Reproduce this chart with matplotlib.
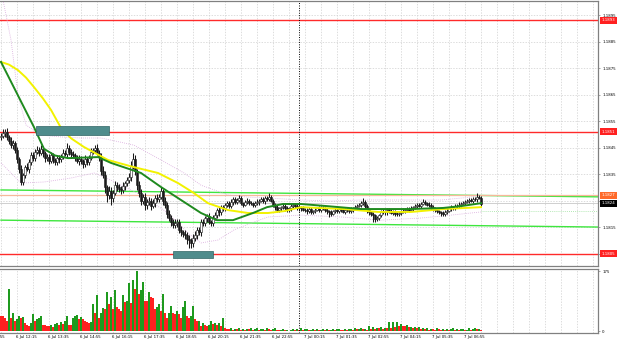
import matplotlib
matplotlib.use('Agg')
import matplotlib.pyplot as plt
import matplotlib.transforms as mtransforms
from matplotlib.patches import Rectangle
import numpy as np

# prices are stored as pips above base, one value per M5 bar (bar 0 = 6 Jul 11:35)
base = 1.1800
pip = 0.0001
first_open = 49.0

close = [
    49.5, 50.5, 51.0, 49.0, 47.5, 46.0, 46.8, 44.0, 40.5, 37.0,
    32.0, 34.5, 37.5, 36.8, 39.5, 42.0, 41.0, 43.5, 44.2, 43.0,
    44.5, 42.8, 41.0, 41.5, 40.0, 42.0, 40.2, 39.5, 41.0, 40.6,
    41.5, 43.0, 42.5, 45.0, 43.5, 42.5, 42.0, 41.2, 40.0, 40.8,
    40.0, 38.8, 40.5, 39.5, 41.0, 43.5, 44.0, 45.0, 43.0, 41.5,
    36.0, 34.5, 30.0, 27.0, 28.5, 26.0, 28.0, 31.0, 30.0, 29.5,
    29.0, 30.5, 31.5, 32.7, 34.0, 38.0, 40.5, 36.0, 31.0, 28.0,
    25.0, 26.5, 23.3, 24.5, 25.0, 23.0, 24.0, 26.0, 25.5, 26.5,
    28.5, 25.0, 23.3, 20.0, 18.4, 17.0, 15.8, 16.5, 17.0, 14.0,
    13.0, 12.5, 12.0, 10.5, 10.0, 9.0, 11.0, 12.0, 14.0, 13.0,
    17.0, 16.5, 18.4, 19.0, 17.0, 16.5, 18.4, 19.5, 21.4, 20.5,
    22.5, 22.0, 23.3, 24.0, 23.0, 24.4, 25.5, 24.6, 25.2, 26.0,
    24.0, 23.5, 24.5, 25.0, 24.2, 24.0, 23.3, 24.0, 24.5, 25.0,
    25.5, 24.8, 26.0, 25.5, 26.3, 25.0, 23.3, 22.5, 21.4, 22.0,
    22.5, 23.0, 22.0, 21.4, 22.0, 22.8, 23.3, 23.0, 22.0, 22.5,
    22.0, 21.5, 21.4, 21.0, 21.8, 20.7, 21.0, 21.5, 22.0, 21.5,
    22.3, 22.0, 21.5, 21.0, 20.7, 20.0, 21.0, 21.4, 21.0, 21.8,
    21.4, 20.8, 21.5, 21.4, 21.0, 21.6, 22.0, 22.5, 23.0, 23.3,
    24.0, 24.4, 23.0, 21.4, 20.5, 20.0, 19.5, 18.0, 18.4, 19.5,
    20.7, 21.0, 20.5, 21.4, 21.0, 20.4, 20.7, 20.0, 19.8, 20.3,
    20.8, 21.2, 21.4, 21.8, 21.5, 22.0, 22.5, 22.8, 23.3, 23.0,
    23.8, 24.4, 24.0, 23.5, 23.3, 22.5, 22.0, 21.4, 21.0, 20.5,
    20.3, 19.8, 20.7, 21.2, 22.0, 22.5, 22.2, 22.8, 23.0, 23.5,
    23.8, 24.0, 24.5, 24.8, 25.2, 25.0, 25.6, 25.4, 26.3, 26.0,
    23.7]

# upper / lower wick beyond the body, pips
up = [
    1.0, 1.5, 1.0, 1.2, 0.8, 1.5, 1.0, 0.8, 1.2, 1.0,
    1.5, 1.0, 0.8, 1.5, 1.0, 1.2, 1.5, 0.8, 1.5, 1.0,
    1.5, 1.0, 0.8, 1.2, 1.0, 1.5, 1.0, 0.8, 1.2, 1.0,
    1.0, 1.5, 1.0, 1.7, 1.0, 0.8, 1.2, 1.0, 0.8, 1.2,
    1.0, 0.8, 1.5, 1.0, 1.2, 1.5, 1.0, 1.0, 1.5, 1.0,
    1.5, 2.0, 1.5, 1.0, 2.0, 1.5, 1.0, 1.5, 1.0, 1.2,
    1.0, 1.5, 1.0, 1.2, 1.5, 2.0, 2.5, 1.5, 1.0, 1.5,
    1.5, 1.0, 1.5, 1.0, 1.2, 1.0, 1.5, 1.0, 1.5, 1.0,
    1.5, 1.0, 1.2, 1.0, 1.5, 1.0, 1.2, 1.5, 1.0, 1.2,
    1.5, 1.0, 1.2, 1.0, 1.5, 1.0, 1.2, 1.5, 1.0, 1.2,
    1.0, 1.2, 0.8, 1.0, 1.2, 0.8, 1.0, 1.2, 0.8, 1.0,
    0.8, 1.0, 0.8, 1.0, 0.8, 1.0, 0.8, 1.0, 0.8, 1.0,
    0.8, 0.6, 0.8, 1.0, 0.6, 0.8, 0.6, 0.8, 1.0, 0.6,
    0.8, 1.0, 0.6, 0.8, 1.5, 0.8, 0.6, 0.8, 1.0, 0.6,
    0.6, 0.8, 0.6, 1.0, 0.6, 0.8, 0.6, 0.8, 0.6, 0.8,
    0.6, 0.8, 0.6, 0.8, 0.6, 0.8, 0.6, 0.8, 0.6, 0.8,
    0.6, 0.8, 0.6, 0.8, 0.6, 0.8, 0.6, 0.8, 0.6, 0.8,
    0.6, 0.8, 0.6, 0.8, 0.6, 0.8, 0.6, 0.8, 0.6, 0.8,
    1.0, 1.5, 0.8, 0.6, 0.8, 0.6, 0.8, 0.6, 0.8, 0.6,
    0.6, 0.8, 0.6, 0.8, 0.6, 0.8, 0.6, 0.8, 0.6, 0.8,
    0.6, 0.8, 0.6, 0.8, 0.6, 0.8, 0.6, 0.8, 0.6, 0.8,
    0.6, 1.0, 0.8, 0.6, 0.8, 0.6, 0.8, 0.6, 0.8, 0.6,
    0.6, 0.8, 0.6, 0.8, 0.6, 0.8, 0.6, 0.8, 0.6, 0.8,
    0.6, 0.8, 0.6, 0.8, 0.6, 0.8, 0.6, 0.8, 1.5, 0.8,
    0.6]
dn = [
    1.0, 0.8, 1.5, 1.0, 1.2, 1.0, 1.5, 1.0, 1.2, 1.5,
    1.0, 1.2, 1.0, 0.8, 1.5, 1.0, 1.2, 1.0, 0.8, 1.2,
    1.0, 1.2, 1.5, 1.0, 1.2, 0.8, 1.0, 1.2, 1.0, 1.5,
    1.2, 1.0, 0.8, 1.0, 1.2, 1.0, 0.8, 1.2, 1.0, 1.5,
    1.2, 1.5, 1.0, 1.2, 1.0, 0.8, 1.0, 1.2, 1.0, 1.5,
    1.5, 1.0, 2.0, 2.5, 1.5, 2.7, 1.5, 1.0, 1.5, 1.2,
    1.5, 1.0, 1.5, 1.2, 1.0, 1.5, 1.0, 1.5, 2.0, 1.5,
    1.5, 1.2, 2.0, 1.5, 1.2, 1.5, 1.0, 1.5, 1.2, 1.0,
    1.0, 1.5, 1.2, 1.5, 1.0, 1.5, 1.2, 1.0, 1.5, 1.2,
    1.5, 1.2, 1.5, 2.0, 3.0, 2.0, 1.5, 1.2, 1.5, 1.0,
    1.2, 1.0, 1.2, 1.5, 1.0, 1.2, 1.0, 0.8, 1.0, 1.2,
    1.0, 0.8, 1.0, 0.8, 1.0, 0.8, 1.0, 0.8, 1.0, 0.8,
    0.8, 1.0, 0.6, 0.8, 1.0, 0.6, 0.8, 0.6, 0.8, 1.0,
    0.6, 0.8, 1.0, 0.6, 0.8, 0.6, 0.8, 1.0, 0.6, 0.8,
    0.8, 0.6, 1.0, 0.8, 0.6, 0.8, 0.6, 1.0, 0.6, 0.8,
    0.8, 0.6, 0.8, 1.0, 0.6, 0.8, 0.6, 0.8, 0.6, 1.0,
    0.8, 0.6, 0.8, 1.0, 2.0, 0.8, 0.6, 0.8, 0.6, 0.8,
    0.8, 0.6, 0.8, 0.6, 0.8, 0.6, 0.8, 0.6, 0.8, 0.6,
    0.8, 0.6, 0.8, 1.0, 0.8, 1.0, 2.5, 1.0, 0.8, 0.6,
    0.8, 0.6, 0.8, 1.0, 0.8, 0.6, 0.8, 1.0, 0.8, 0.6,
    0.8, 0.6, 0.8, 0.6, 0.8, 0.6, 0.8, 0.6, 0.8, 0.6,
    0.8, 0.6, 0.8, 0.6, 0.8, 0.6, 0.8, 0.6, 0.8, 0.6,
    1.0, 0.8, 0.6, 0.8, 0.6, 0.8, 0.6, 0.8, 0.6, 0.8,
    0.8, 0.6, 0.8, 0.6, 0.8, 0.6, 0.8, 0.6, 0.8, 0.6,
    0.8]

volume = [
    45, 44, 40, 30, 125, 40, 55, 30, 35, 45,
    40, 42, 25, 20, 15, 25, 52, 30, 35, 40,
    45, 20, 18, 15, 15, 18, 12, 22, 25, 20,
    28, 22, 30, 45, 20, 18, 40, 45, 48, 35,
    42, 35, 30, 28, 25, 28, 80, 55, 105, 40,
    55, 68, 65, 115, 80, 100, 65, 120, 70, 65,
    60, 105, 85, 90, 140, 82, 150, 125, 175, 110,
    120, 145, 90, 88, 115, 100, 98, 65, 70, 80,
    60, 108, 55, 40, 55, 75, 55, 50, 60, 50,
    40, 70, 90, 45, 40, 45, 75, 35, 30, 32,
    15, 25, 20, 15, 18, 30, 22, 25, 20, 25,
    15, 40, 10, 8, 6, 10, 5, 8, 6, 9,
    5, 7, 4, 8, 6, 10, 5, 7, 9, 4,
    6, 8, 5, 9, 7, 4, 6, 10, 5, 3,
    4, 6, 3, 5, 2, 4, 6, 3, 8, 5,
    9, 4, 6, 8, 3, 5, 7, 4, 6, 3,
    5, 8, 4, 6, 3, 5, 7, 4, 6, 8,
    5, 4, 7, 3, 6, 8, 5, 9, 6, 7,
    10, 6, 8, 5, 17, 8, 12, 7, 10, 9,
    12, 8, 11, 9, 27, 10, 27, 12, 27, 15,
    22, 17, 15, 18, 12, 14, 11, 13, 10, 12,
    8, 10, 6, 9, 5, 8, 7, 4, 9, 6,
    5, 8, 4, 7, 3, 6, 9, 5, 7, 4,
    6, 8, 3, 5, 9, 4, 7, 10, 6, 8,
    5]

# indicator lines (bar index, pips)
fast_ma_x = [0, 16.5, 21.5, 27, 33.5, 48.5, 55, 70, 80, 90, 100, 108, 116, 126, 133, 141,
             150, 163, 180, 191, 205, 221, 230, 240]
fast_ma_y = [77.3, 52.7, 44.5, 42.0, 41.0, 41.4, 39.2, 35.4, 30.1, 25.2, 20.3, 17.6, 17.6,
             20.3, 22.5, 23.7, 23.7, 22.9, 21.8, 21.8, 21.8, 22.2, 22.9, 24.0]
slow_ma_x = [0, 4, 8.5, 12.5, 16.5, 21, 25, 30, 35, 41.5, 53.5, 66.5, 78.5, 88.5, 96.5, 103.5,
             113.5, 123.5, 133.5, 141.5, 150, 171.5, 188.5, 205, 221.5, 240]
slow_ma_y = [77.3, 76.3, 74.2, 71.4, 67.8, 63.5, 59.2, 52.4, 48.5, 45.2, 40.3, 37.6, 35.4,
             31.6, 27.8, 24.0, 21.4, 20.3, 20.3, 21.0, 22.5, 21.8, 20.7, 20.7, 21.8, 22.5]
band_up_x = [1, 5, 8.5, 12.5, 20, 30, 40, 50, 55, 66.5, 80, 91.5, 100, 113.5, 123.5, 135,
             150, 165, 180, 200, 220, 235, 240]
band_up_y = [100.7, 85.6, 64.8, 53.5, 49.7, 49.0, 48.6, 48.6, 47.8, 45.9, 40.3, 35.4, 30.8,
             27.1, 26.3, 25.9, 25.2, 24.8, 25.2, 25.2, 25.2, 26.3, 27.1]
band_dn_x = [0, 10, 21.5, 35, 46.5, 55, 70, 83.5, 93.5, 100, 108.5, 116.5, 125, 133.5, 150,
             170, 190, 210, 225, 240]
band_dn_y = [39.2, 31.6, 32.0, 33.5, 35.4, 32.7, 27.1, 20.3, 12.7, 9.0, 10.1, 13.9, 16.5, 18.8,
             19.5, 18.8, 17.6, 18.4, 19.5, 20.7]

red_levels = [1.1893, 1.1851, 1.1805]
channel_top = [1.18290, 1.18264]
channel_bottom = [1.18176, 1.18150]
orange_level = 1.1827
bid = 1.1824
green_dotted = 1.1821

zone_start = [17.5, 86]
zone_end = [54, 106]
zone_lo = [1.18497, 1.18033]
zone_hi = [1.18531, 1.18059]

separator_bar = 149
time_labels = ['6 Jul 10:55', '6 Jul 12:15', '6 Jul 13:35', '6 Jul 14:55', '6 Jul 16:15',
               '6 Jul 17:35', '6 Jul 18:55', '6 Jul 20:15', '6 Jul 21:35', '6 Jul 22:55',
               '7 Jul 00:15', '7 Jul 01:35', '7 Jul 02:55', '7 Jul 04:15', '7 Jul 05:35',
               '7 Jul 06:55']
price_ticks = [1.1805, 1.1815, 1.1825, 1.1835, 1.1845, 1.1855, 1.1865, 1.1875, 1.1885, 1.1895]
price_tick_labels = ['', '1.1815', '', '1.1835', '1.1845', '1.1855', '1.1865', '1.1875',
                     '1.1885', '1.1895']

fs = 2.8
frame = '#808080'
grid_kw = dict(color='#cfcfcf', linestyle=(0, (2, 2)), linewidth=0.5)

fig = plt.figure(figsize=(6.2, 3.45), dpi=100)
ax = fig.add_axes([0, 1 - 266 / 345, 598 / 620, 265 / 345])
axv = fig.add_axes([0, 1 - 333 / 345, 598 / 620, 64 / 345])

n = len(close)
idx = np.arange(n)
c = np.array(close)
o = np.array([first_open] + close[:-1])
hi = np.maximum(o, c) + np.array(up)
lo = np.minimum(o, c) - np.array(dn)

for a in (ax, axv):
    a.set_xlim(-0.5, 298.5)
    a.set_xticks(np.arange(0, 299, 8))
    a.tick_params(axis='x', length=0, labelbottom=False)
    a.grid(True, axis='x', **grid_kw)
    a.spines['left'].set_visible(False)
    for s in ('top', 'right', 'bottom'):
        a.spines[s].set_color(frame)
        a.spines[s].set_linewidth(0.9)
    a.set_axisbelow(True)
    a.axvline(separator_bar, color='black', linestyle=(0, (1, 1.5)), linewidth=0.7, zorder=5)

# price panel
ax.set_ylim(1.18003, 1.19003)
ax.set_yticks(price_ticks, labels=price_tick_labels)
ax.grid(True, axis='y', **grid_kw)
ax.tick_params(axis='y', left=False, right=True, labelleft=False, labelright=True,
               length=1.5, width=0.5, pad=1.5, labelsize=fs, color=frame)

ax.plot([0, 298.5], channel_top, color='#3ee63e', linewidth=1.0, zorder=2)
ax.plot([0, 298.5], channel_bottom, color='#3ee63e', linewidth=1.0, zorder=2)
ax.axhline(orange_level, color='#f7b89a', linewidth=0.9, zorder=2)
ax.axhline(bid, color='#c8c8c8', linewidth=0.6, zorder=2)
ax.plot([n - 1, 298.5], [green_dotted, green_dotted], color='#9be09b',
        linestyle=(0, (1, 1.5)), linewidth=0.6, zorder=2)
for lvl in red_levels:
    ax.axhline(lvl, color='#ff2a2a', linewidth=1.0, zorder=2)

band_kw = dict(color='#d9a9dd', linestyle=(0, (1, 1.5)), linewidth=0.6, zorder=3)
ax.plot(band_up_x, base + np.array(band_up_y) * pip, **band_kw)
ax.plot(band_dn_x, base + np.array(band_dn_y) * pip, **band_kw)

ax.vlines(idx, base + lo * pip, base + hi * pip, color='#1a1a1a', linewidth=0.75, zorder=4)
bull = c >= o
ax.bar(idx[bull], np.maximum(c - o, 0.3)[bull] * pip, bottom=base + o[bull] * pip,
       width=0.85, color='white', edgecolor='#1a1a1a', linewidth=0.4, zorder=4)
ax.bar(idx[~bull], (o - c)[~bull] * pip, bottom=base + c[~bull] * pip,
       width=0.85, color='#1a1a1a', edgecolor='#1a1a1a', linewidth=0.4, zorder=4)

ax.plot(slow_ma_x, base + np.array(slow_ma_y) * pip, color='#f2f200', linewidth=1.4, zorder=6)
ax.plot(fast_ma_x, base + np.array(fast_ma_y) * pip, color='#1f8a1f', linewidth=1.4, zorder=6)

for x0, x1, y0, y1 in zip(zone_start, zone_end, zone_lo, zone_hi):
    ax.add_patch(Rectangle((x0, y0), x1 - x0, y1 - y0, facecolor='#4f8c8c',
                           edgecolor='#2f6464', linewidth=0.5, zorder=7))

# price labels on the right edge
tr = mtransforms.blended_transform_factory(ax.transAxes, ax.transData)
box_labels = [(lvl, '#ff2020', 'white') for lvl in red_levels]
box_labels += [(orange_level, '#ff6a2a', 'white'), (bid, 'black', 'white')]
for lvl, bg, fg in box_labels:
    ax.text(1.006, lvl, f'{lvl:.4f}', transform=tr, ha='left', va='center', fontsize=fs,
            color=fg, clip_on=False, zorder=10,
            bbox=dict(boxstyle='square,pad=0.35', facecolor=bg, edgecolor='none'))

# volume panel (green when volume rises vs previous bar)
v = np.array(volume)
vcol = ['#1e9a1e' if i > 0 and v[i] > v[i - 1] else '#ff2020' for i in range(n)]
axv.bar(idx, v, width=0.75, color=vcol, linewidth=0, zorder=3)
axv.set_ylim(-4.4, 182)
axv.set_yticks([0, 175], labels=['0', '175'])
axv.tick_params(axis='y', left=False, right=True, labelleft=False, labelright=True,
                length=1.5, width=0.5, pad=1.5, labelsize=fs, color=frame)

trv = mtransforms.blended_transform_factory(axv.transData, axv.transAxes)
for k, lab in enumerate(time_labels):
    axv.text(-8 + 16 * k - 0.5, -0.035, lab, transform=trv, ha='left', va='top',
             fontsize=fs, clip_on=False)

fig.savefig('out.png', dpi=100)
